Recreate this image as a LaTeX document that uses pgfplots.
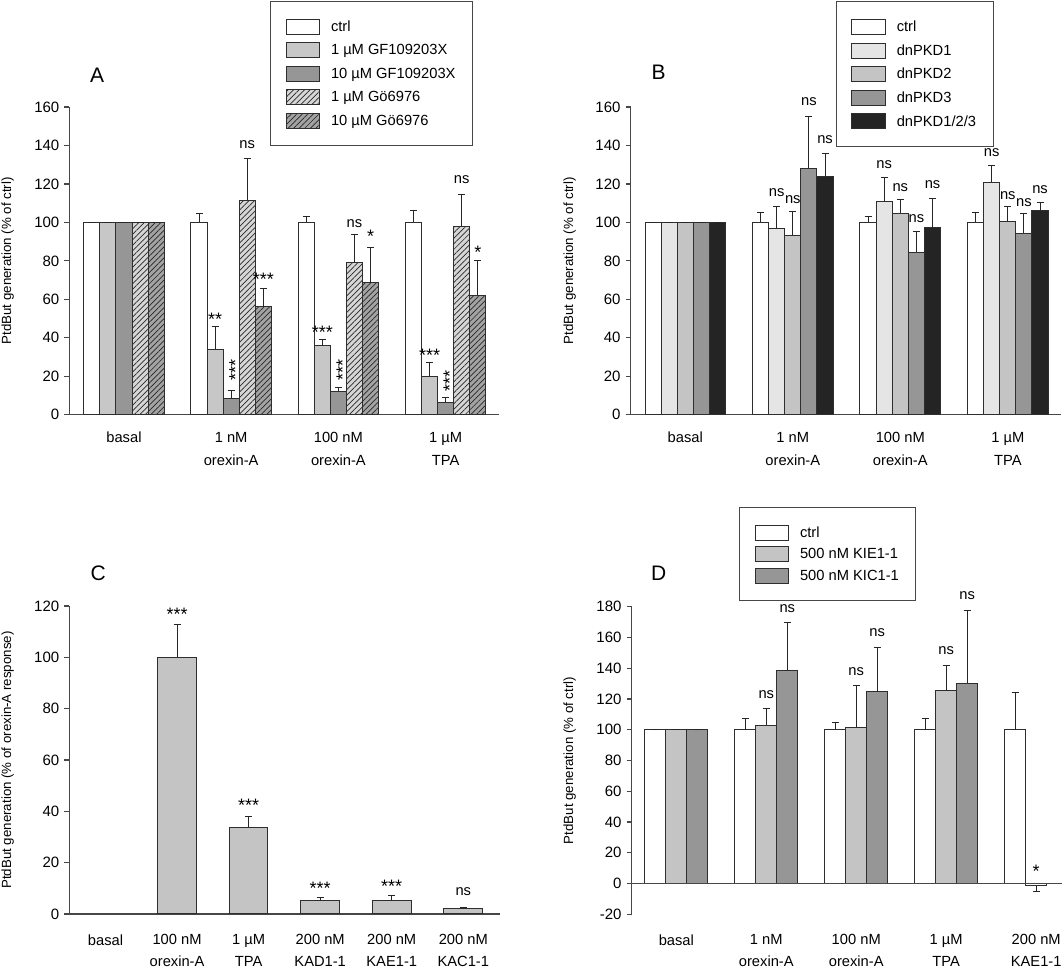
\documentclass[border=0pt]{standalone}
\usepackage{fontspec}
\setmainfont{Liberation Sans}
\usepackage{pgfplots}
\pgfplotsset{compat=1.18}
\usetikzlibrary{patterns.meta}

\definecolor{axc}{gray}{0.28}
\definecolor{edge}{gray}{0.18}
\definecolor{gA1}{gray}{0.78}
\definecolor{gA2}{gray}{0.59}
\definecolor{gH1}{gray}{0.84}
\definecolor{gH2}{gray}{0.64}
\definecolor{gB1}{gray}{0.90}
\definecolor{gB2}{gray}{0.77}
\definecolor{gB3}{gray}{0.59}
\definecolor{gB4}{gray}{0.14}

\tikzset{
  hatch/.style={postaction={pattern={Lines[angle=45,distance=3.9pt,line width=0.7pt]}, pattern color=black!85}},
  ns/.style={anchor=base, yshift=-3.8pt, font=\fontsize{14.7}{17}\selectfont},
  st/.style={anchor=base, yshift=-10.4pt, font=\fontsize{18}{20}\selectfont},
  stv/.style={anchor=base, rotate=90, font=\fontsize{18}{20}\selectfont},
  letter/.style={font=\fontsize{21}{24}\selectfont},
}

\pgfplotsset{
  panel/.style={
    scale only axis, anchor=south west,
    axis x line*=bottom, axis y line*=left,
    axis line style={axc, line width=1.5pt},
    tick align=outside, major tick length=5pt,
    ytick style={axc, line width=1.2pt},
    xtick style={draw=none},
    clip=false,
    /pgf/number format/assume math mode=true,
    yticklabel style={font=\fontsize{15}{18}\selectfont, inner sep=0pt, xshift=-5pt},
    ylabel style={font=\fontsize{13.3}{15}\selectfont, anchor=center},
    legend style={draw=axc, line width=1pt, inner xsep=15pt, inner ysep=17pt,
      column sep=9pt, font=\fontsize{14.7}{17}\selectfont, cells={anchor=west, inner sep=0pt},
      anchor=north west},
  },
  mybar/.style={
    ybar, bar shift=0pt, draw=edge, line width=1pt,
    legend image code/.code={\draw[##1] (0pt,-7.5pt) rectangle (33.5pt,7.5pt);},
    error bars/y dir=plus, error bars/y explicit,
    error bars/error mark=-,
    error bars/error bar style={line width=1pt, draw=black!85},
    error bars/error mark options={rotate=90, mark size=3.5pt, line width=1pt, draw=black!85},
  },
}

\begin{document}
\begin{tikzpicture}
\useasboundingbox (0,0) rectangle (1063pt,968pt);

% ---------------- Panel A ----------------
\begin{axis}[panel, at={(69.5pt,553.3pt)}, width=429.8pt, height=307.7pt,
  xmin=-0.508, xmax=3.501, ymin=0, ymax=160, ytick={0,20,...,160},
  xtick={0,1,2,3},
  xticklabels={basal,{1 nM\\orexin-A},{100 nM\\orexin-A},{1 µM\\TPA}},
  xticklabel style={font=\fontsize{14.7}{23.3}\selectfont, align=center, anchor=north, inner sep=0pt, yshift=-12pt},
  ylabel={PtdBut generation (\% of ctrl)},
  ylabel style={at={(axis description cs:-0.144,0.5)}},
  legend style={at={(0.4665,1.3435)}, row sep=7.5pt},
]
\addplot[mybar, bar width=0.15, fill=white] coordinates {
  (-0.3,100) +- (0,0) (0.7,100) +- (0,4.5) (1.7,100) +- (0,3) (2.7,100) +- (0,6.1)};
\addlegendentry{ctrl}
\addplot[mybar, bar width=0.15, fill=gA1] coordinates {
  (-0.15,100) +- (0,0) (0.85,33.7) +- (0,12.1) (1.85,35.8) +- (0,3.5) (2.85,19.9) +- (0,7.1)};
\addlegendentry{1 µM GF109203X}
\addplot[mybar, bar width=0.15, fill=gA2] coordinates {
  (0,100) +- (0,0) (1,8.6) +- (0,4) (2,12.1) +- (0,1.8) (3,6.4) +- (0,2.4)};
\addlegendentry{10 µM GF109203X}
\addplot[mybar, bar width=0.15, fill=gH1, hatch] coordinates {
  (0.15,100) +- (0,0) (1.15,111.6) +- (0,21.4) (2.15,78.9) +- (0,14.7) (3.15,97.8) +- (0,16.9)};
\addlegendentry{1 µM Gö6976}
\addplot[mybar, bar width=0.15, fill=gH2, hatch] coordinates {
  (0.3,100) +- (0,0) (1.3,56.2) +- (0,9.5) (2.3,68.5) +- (0,18.5) (3.3,62) +- (0,18.1)};
\addlegendentry{10 µM Gö6976}
\node[st] at (axis cs:0.85,52) {**};
\node[stv] at ([xshift=10.4pt]axis cs:1,23.4) {***};
\node[ns] at (axis cs:1.15,140.5) {ns};
\node[st] at (axis cs:1.3,72.7) {***};
\node[st] at (axis cs:1.85,45) {***};
\node[stv] at ([xshift=10.4pt]axis cs:2,23) {***};
\node[ns] at (axis cs:2.15,99.5) {ns};
\node[st] at (axis cs:2.3,95) {*};
\node[st] at (axis cs:2.85,33) {***};
\node[stv] at ([xshift=10.4pt]axis cs:3,17.3) {***};
\node[ns] at (axis cs:3.15,122) {ns};
\node[st] at (axis cs:3.3,86.5) {*};
\end{axis}

% ---------------- Panel B ----------------
\begin{axis}[panel, at={(630.7pt,553.3pt)}, width=430.3pt, height=307.7pt,
  xmin=-0.508, xmax=3.495, ymin=0, ymax=160, ytick={0,20,...,160},
  xtick={0,1,2,3},
  xticklabels={basal,{1 nM\\orexin-A},{100 nM\\orexin-A},{1 µM\\TPA}},
  xticklabel style={font=\fontsize{14.7}{23.3}\selectfont, align=center, anchor=north, inner sep=0pt, yshift=-12pt},
  ylabel={PtdBut generation (\% of ctrl)},
  ylabel style={at={(axis description cs:-0.142,0.5)}},
  legend style={at={(0.4766,1.3435)}, row sep=7.5pt},
]
\addplot[mybar, bar width=0.15, fill=white] coordinates {
  (-0.3,100) +- (0,0) (0.7,100) +- (0,5) (1.7,100) +- (0,3.3) (2.7,100) +- (0,5)};
\addlegendentry{ctrl}
\addplot[mybar, bar width=0.15, fill=gB1] coordinates {
  (-0.15,100) +- (0,0) (0.85,96.7) +- (0,11.4) (1.85,110.7) +- (0,12.5) (2.85,120.8) +- (0,8.8)};
\addlegendentry{dnPKD1}
\addplot[mybar, bar width=0.15, fill=gB2] coordinates {
  (0,100) +- (0,0) (1,93.4) +- (0,12.5) (2,104.7) +- (0,7.4) (3,100.2) +- (0,7.9)};
\addlegendentry{dnPKD2}
\addplot[mybar, bar width=0.15, fill=gB3] coordinates {
  (0.15,100) +- (0,0) (1.15,128) +- (0,26.8) (2.15,84.4) +- (0,10.9) (3.15,94.3) +- (0,10.2)};
\addlegendentry{dnPKD3}
\addplot[mybar, bar width=0.15, fill=gB4] coordinates {
  (0.3,100) +- (0,0) (1.3,124) +- (0,11.8) (2.3,97.2) +- (0,15.4) (3.3,106.4) +- (0,4)};
\addlegendentry{dnPKD1/2/3}
\node[ns] at (axis cs:0.85,115.4) {ns};
\node[ns] at (axis cs:1.0,111.6) {ns};
\node[ns] at (axis cs:1.15,162.6) {ns};
\node[ns] at (axis cs:1.3,143) {ns};
\node[ns] at (axis cs:1.85,130) {ns};
\node[ns] at (axis cs:2.0,118) {ns};
\node[ns] at (axis cs:2.15,102) {ns};
\node[ns] at (axis cs:2.3,119.7) {ns};
\node[ns] at (axis cs:2.85,136) {ns};
\node[ns] at (axis cs:3.0,114) {ns};
\node[ns] at (axis cs:3.15,110.4) {ns};
\node[ns] at (axis cs:3.3,117) {ns};
\end{axis}

% ---------------- Panel C ----------------
\begin{axis}[panel, at={(69.4pt,54pt)}, width=430.6pt, height=308pt,
  xmin=-0.505, xmax=5.513, ymin=0, ymax=120, ytick={0,20,...,120},
  xtick={0,1,2,3,4,5},
  xticklabels={basal,{100 nM\\orexin-A},{1 µM\\TPA},{200 nM\\KAD1-1},{200 nM\\KAE1-1},{200 nM\\KAC1-1}},
  xticklabel style={font=\fontsize{14.7}{21.7}\selectfont, align=center, anchor=north, inner sep=0pt, yshift=-15.5pt},
  ylabel={PtdBut generation (\% of orexin-A response)},
  ylabel style={at={(axis description cs:-0.1435,0.5)}},
]
\addplot[mybar, bar width=0.54, fill=gB2] coordinates {
  (1,100) +- (0,12.9) (2,33.8) +- (0,4.1) (3,5.2) +- (0,1.3) (4,5.2) +- (0,1.9) (5,1.95) +- (0,0.6)};
\node[st] at (axis cs:1,118.4) {***};
\node[st] at (axis cs:2,44) {***};
\node[st] at (axis cs:3,11.8) {***};
\node[st] at (axis cs:4,12.6) {***};
\node[ns] at (axis cs:5,8.6) {ns};
\end{axis}

% ---------------- Panel D ----------------
\begin{axis}[panel, at={(631.7pt,53.7pt)}, width=430.3pt, height=307.6pt,
  xmin=-0.496, xmax=4.287, ymin=-20, ymax=180, ytick={-20,0,...,180},
  x axis line style={draw=none},
  xtick={0,1,2,3,4},
  xticklabels={basal,{1 nM\\orexin-A},{100 nM\\orexin-A},{1 µM\\TPA},{200 nM\\KAE1-1}},
  xticklabel style={font=\fontsize{14.7}{21.7}\selectfont, align=center, anchor=north, inner sep=0pt, yshift=-15pt},
  ylabel={PtdBut generation (\% of ctrl)},
  ylabel style={at={(axis description cs:-0.1443,0.5)}},
  legend style={at={(0.2494,1.3231)}, row sep=5.4pt},
]
\addplot[mybar, bar width=0.2333, fill=white] coordinates {
  (-0.2333,100) +- (0,0) (0.7667,100) +- (0,7.3) (1.7667,100) +- (0,4.7) (2.7667,100) +- (0,7.3) (3.7667,100) +- (0,24.4)};
\addlegendentry{ctrl}
\addplot[mybar, bar width=0.2333, fill=gB2] coordinates {
  (0,100) +- (0,0) (1,103) +- (0,10.8) (2,101.7) +- (0,27) (3,125.3) +- (0,16.4)};
\addlegendentry{500 nM KIE1-1}
\addplot[mybar, bar width=0.2333, fill=gB3] coordinates {
  (0.2333,100) +- (0,0) (1.2333,138.5) +- (0,31.1) (2.2333,124.6) +- (0,28.6) (3.2333,130.2) +- (0,47)};
\addlegendentry{500 nM KIC1-1}
\addplot[mybar, bar width=0.2333, fill=white, forget plot, error bars/y dir=minus] coordinates {
  (4,-1.6) +- (0,3.5)};
\draw[axc, line width=1.5pt] (axis cs:-0.496,0) -- (axis cs:4.287,0);
\node[ns] at (axis cs:1,123) {ns};
\node[ns] at (axis cs:1.2333,179) {ns};
\node[ns] at (axis cs:2,138) {ns};
\node[ns] at (axis cs:2.2333,163) {ns};
\node[ns] at (axis cs:3,151.5) {ns};
\node[ns] at (axis cs:3.2333,187) {ns};
\node[st] at (axis cs:4,10.8) {*};
\end{axis}

\node[letter] at (97.2pt,893pt) {A};
\node[letter] at (658.7pt,895.3pt) {B};
\node[letter] at (98.2pt,394.7pt) {C};
\node[letter] at (658.7pt,394.7pt) {D};
\end{tikzpicture}
\end{document}
